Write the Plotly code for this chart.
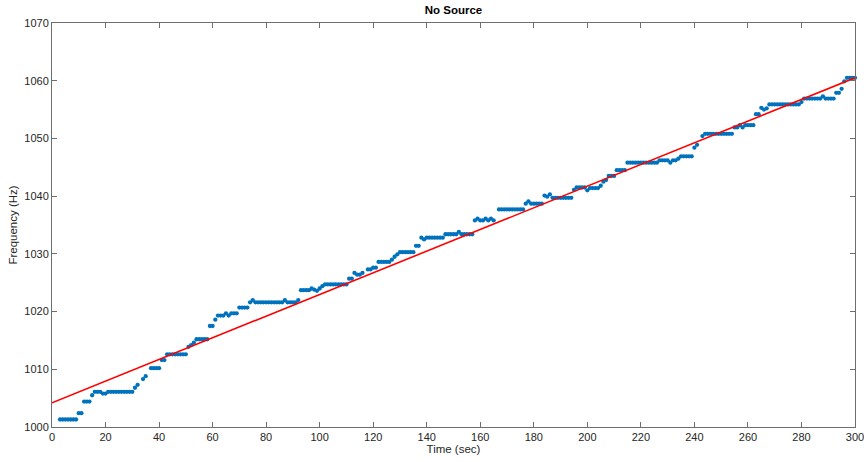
import plotly.graph_objects as go

# Sample times (seconds), one reading per second
TIME_START = 3
TIME_END = 300
times = list(range(TIME_START, TIME_END + 1))

# Measured frequency (Hz); None where no sample is visible
freq = [
    1001.3, 1001.3, 1001.3, 1001.3, 1001.3, 1001.3, 1001.3, 1002.4, 1002.4, 1004.4,  # t3-12
    1004.4, 1004.4, 1005.5, 1006.1, 1006.1, 1006.1, 1005.8, 1005.8, 1006.1, 1006.1,  # t13-22
    1006.1, 1006.1, 1006.1, 1006.1, 1006.1, 1006.1, 1006.1, 1006.1, 1006.8, 1007.3,  # t23-32
    None, 1008.3, 1008.8, None, 1010.2, 1010.2, 1010.2, 1010.2, 1011.6, 1011.6,      # t33-42
    1012.6, 1012.6, 1012.6, 1012.6, 1012.6, 1012.6, 1012.6, 1012.6, 1013.9, 1014.2,  # t43-52
    1014.6, 1015.2, 1015.2, 1015.2, 1015.2, 1015.2, 1017.5, 1017.5, 1018.6, 1019.3,  # t53-62
    1019.3, 1019.3, 1019.7, 1019.3, 1019.7, 1019.7, 1019.7, 1020.7, 1020.7, 1020.7,  # t63-72
    1020.7, 1021.6, 1022.0, 1021.6, 1021.6, 1021.6, 1021.6, 1021.6, 1021.6, 1021.6,  # t73-82
    1021.6, 1021.6, 1021.6, 1021.6, 1022.0, 1021.6, 1021.6, 1021.6, 1021.6, 1022.0,  # t83-92
    1023.7, 1023.7, 1023.7, 1023.7, 1024.0, 1023.8, 1023.6, 1024.0, 1024.4, 1024.7,  # t93-102
    1024.7, 1024.7, 1024.7, 1024.7, 1024.7, 1024.7, 1024.7, 1024.7, 1025.7, 1025.7,  # t103-112
    1026.7, 1026.4, 1026.4, 1026.7, None, 1027.3, 1027.3, 1027.6, 1027.6, 1028.6,    # t113-122
    1028.6, 1028.6, 1028.6, 1028.6, 1029.0, 1029.5, 1029.9, 1030.3, 1030.3, 1030.3,  # t123-132
    1030.3, 1030.3, 1030.3, 1031.4, 1031.4, 1032.8, 1032.5, 1032.8, 1032.8, 1032.8,  # t133-142
    1032.8, 1032.8, 1032.8, 1032.8, 1033.4, 1033.4, 1033.4, 1033.4, 1033.4, 1033.8,  # t143-152
    1033.4, 1033.4, 1033.4, 1033.4, 1033.4, 1035.8, 1036.1, 1035.8, 1035.8, 1036.1,  # t153-162
    1035.8, 1036.1, 1035.8, None, 1037.7, 1037.7, 1037.7, 1037.7, 1037.7, 1037.7,    # t163-172
    1037.7, 1037.7, 1037.7, 1037.7, 1038.7, 1039.1, 1038.7, 1038.7, 1038.7, 1038.7,  # t173-182
    1038.7, 1040.1, 1039.9, 1040.3, 1039.7, 1039.7, 1039.7, 1039.7, 1039.7, 1039.7,  # t183-192
    1039.7, 1039.7, 1041.1, 1041.5, 1041.5, 1041.5, 1041.5, 1041.0, 1041.4, 1041.4,  # t193-202
    1041.4, 1041.4, 1041.8, 1042.5, 1042.8, 1043.5, 1043.5, 1043.5, 1044.5, 1044.5,  # t203-212
    1044.5, 1044.5, 1045.8, 1045.8, 1045.8, 1045.8, 1045.8, 1045.8, 1045.8, 1045.8,  # t213-222
    1045.8, 1045.8, 1045.8, 1045.8, 1046.2, 1046.2, 1046.2, 1046.2, 1045.8, 1046.2,  # t223-232
    1046.2, 1046.5, 1046.9, 1046.9, 1046.9, 1046.9, 1046.9, 1048.4, 1048.9, None,    # t233-242
    1050.4, 1050.8, 1050.8, 1050.8, 1050.8, 1050.8, 1050.8, 1050.8, 1050.8, 1050.8,  # t243-252
    1050.8, 1050.8, 1051.9, 1051.9, 1052.3, 1051.9, 1052.3, 1052.3, 1052.3, 1052.3,  # t253-262
    1054.2, 1054.2, 1055.3, 1055.0, 1055.2, 1055.9, 1055.9, 1055.9, 1055.9, 1055.9,  # t263-272
    1055.9, 1055.9, 1055.9, 1055.9, 1055.9, 1055.9, 1055.9, 1056.3, 1056.9, 1056.9,  # t273-282
    1056.9, 1056.9, 1056.9, 1056.9, 1056.9, 1057.3, 1056.9, 1056.9, 1056.9, 1056.9,  # t283-292
    1057.9, 1057.9, 1058.6, 1059.9, 1060.5, 1060.5, 1060.5, 1060.5,                  # t293-300
]

# Linear fit line endpoints
fit_time = [0, 300]
fit_freq = [1004.2, 1060.5]

# Axis ticks
x_ticks = [0, 20, 40, 60, 80, 100, 120, 140, 160, 180, 200, 220, 240, 260, 280, 300]
y_ticks = [1000, 1010, 1020, 1030, 1040, 1050, 1060, 1070]

TITLE = "No Source"
X_LABEL = "Time (sec)"
Y_LABEL = "Frequency (Hz)"

FONT = "Liberation Sans, Arial, Helvetica, sans-serif"
AXIS_COLOR = "#6e6e6e"
TEXT_COLOR = "#262626"

fig = go.Figure()
fig.add_trace(go.Scatter(
    x=times, y=freq, mode="markers",
    marker=dict(color="#0072BD", size=4.3, line=dict(width=0)),
    showlegend=False, hoverinfo="x+y", cliponaxis=False,
))
fig.add_trace(go.Scatter(
    x=fit_time, y=fit_freq, mode="lines",
    line=dict(color="#FF0000", width=1.6),
    showlegend=False,
))

axis_common = dict(
    showgrid=False, zeroline=False, automargin=False,
    showline=True, linecolor=AXIS_COLOR, linewidth=1,
    mirror="ticks", ticks="inside", ticklen=5, tickcolor=AXIS_COLOR, tickwidth=1,
    tickfont=dict(family=FONT, size=11, color=TEXT_COLOR),
    ticklabeloverflow="allow",
)

fig.update_layout(
    width=864, height=462,
    margin=dict(l=52, r=9, t=23, b=35, autoexpand=False),
    paper_bgcolor="white", plot_bgcolor="white",
    font=dict(family=FONT, color=TEXT_COLOR),
    title=dict(
        text="<b>" + TITLE + "</b>", x=(52 + 855) / 2 / 864, xanchor="center",
        xref="container",
        y=1 - 10 / 462, yanchor="middle", automargin=False,
        font=dict(family=FONT, size=11.5, color="#000000"),
    ),
    xaxis=dict(
        range=[0, 300], tickvals=x_ticks, ticktext=[str(v) for v in x_ticks],
        title=dict(text=X_LABEL, font=dict(family=FONT, size=11.5, color=TEXT_COLOR), standoff=2),
        **axis_common,
    ),
    yaxis=dict(
        range=[1000, 1070], tickvals=y_ticks, ticktext=[str(v) for v in y_ticks],
        title=dict(text=Y_LABEL, font=dict(family=FONT, size=11.5, color=TEXT_COLOR), standoff=4),
        **axis_common,
    ),
)

fig.write_html(
    "out.html",
    config={"displayModeBar": False},
    post_script="document.body.style.margin='0px';",
)
